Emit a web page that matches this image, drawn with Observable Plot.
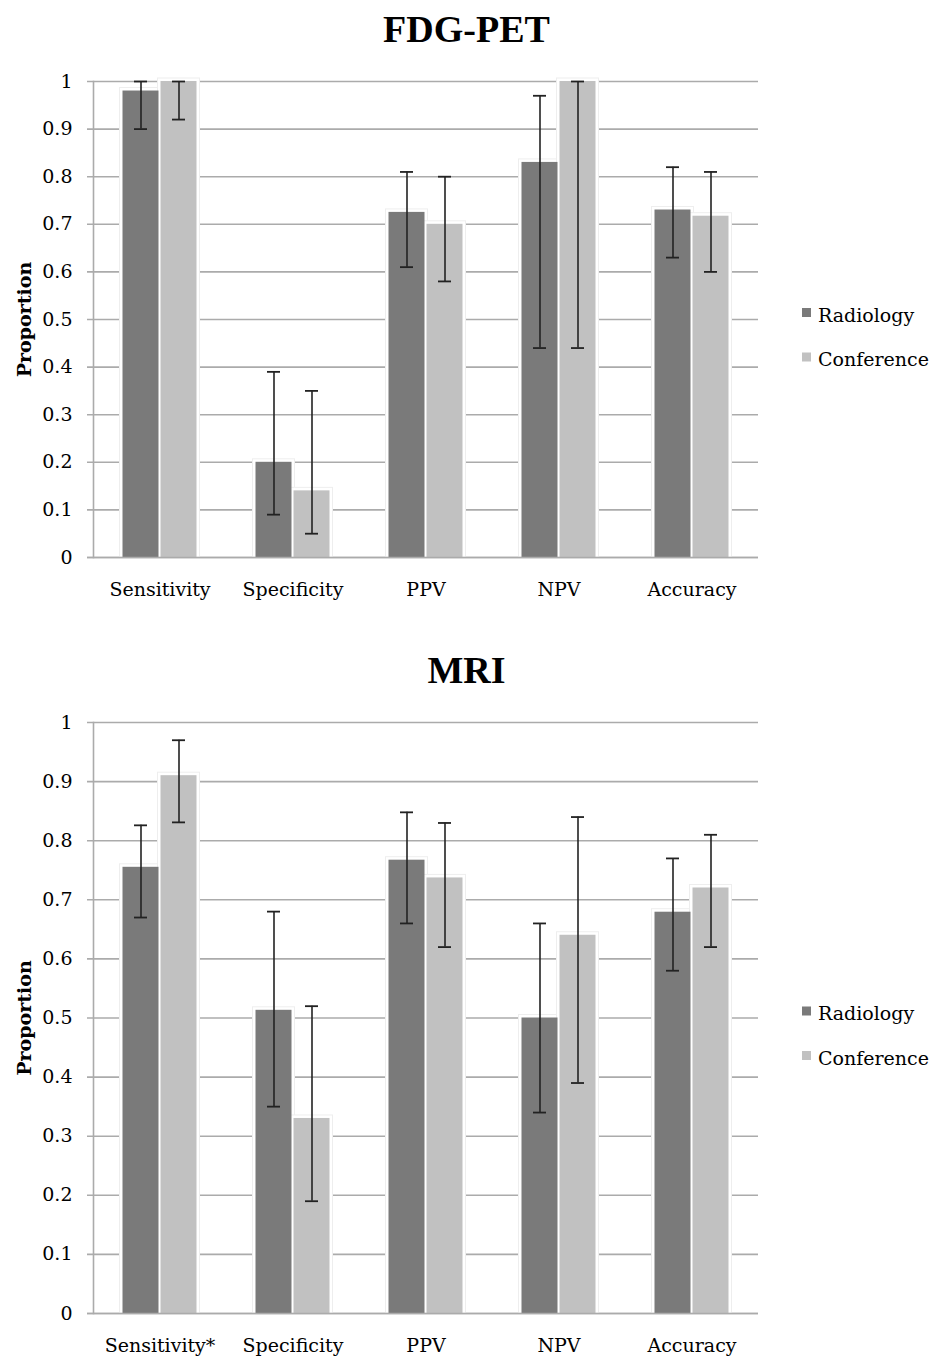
<!DOCTYPE html>
<html><head><meta charset="utf-8">
<script src="https://cdn.jsdelivr.net/npm/d3@7"></script>
<script src="https://cdn.jsdelivr.net/npm/@observablehq/plot@0.6"></script>
<style>
body{margin:0;background:#fff;}
#page{position:relative;width:933px;height:1357px;overflow:hidden;background:#fff;}
.title{position:absolute;left:0;width:933px;text-align:center;font-family:"Liberation Serif",serif;font-weight:bold;font-size:38px;line-height:38px;color:#000;}
.chart{position:absolute;left:0;}
</style></head><body><div id="page"></div>
<script>
// ---- data ----
const series = ["Radiology", "Conference"];
const seriesColors = ["#7a7a7a", "#c1c1c1"];
const yTicks = [0, 0.1, 0.2, 0.3, 0.4, 0.5, 0.6, 0.7, 0.8, 0.9, 1];
const yLabel = "Proportion";

const petTitle = "FDG-PET";
const petMetrics = ["Sensitivity", "Specificity", "PPV", "NPV", "Accuracy"];
const petRadiology   = [0.98, 0.20, 0.725, 0.83, 0.73];
const petRadiologyLo = [0.90, 0.09, 0.61, 0.44, 0.63];
const petRadiologyHi = [1.00, 0.39, 0.81, 0.97, 0.82];
const petConference   = [1.00, 0.14, 0.70, 1.00, 0.717];
const petConferenceLo = [0.92, 0.05, 0.58, 0.44, 0.60];
const petConferenceHi = [1.00, 0.35, 0.80, 1.00, 0.81];

const mriTitle = "MRI";
const mriMetrics = ["Sensitivity*", "Specificity", "PPV", "NPV", "Accuracy"];
const mriRadiology   = [0.755, 0.513, 0.767, 0.50, 0.679];
const mriRadiologyLo = [0.67, 0.35, 0.66, 0.34, 0.58];
const mriRadiologyHi = [0.826, 0.68, 0.848, 0.66, 0.77];
const mriConference   = [0.91, 0.33, 0.737, 0.64, 0.72];
const mriConferenceLo = [0.831, 0.19, 0.62, 0.39, 0.62];
const mriConferenceHi = [0.97, 0.52, 0.83, 0.84, 0.81];

// ---- build ----
const page = document.getElementById("page");
const FONT = "'DejaVu Serif', serif";
const GRID = "#ababab";
const ERR = "#222";

function makeRows(metrics, vals, los, his) {
  return metrics.flatMap((m, i) => series.map((s, j) => ({
    metric: m, series: s, value: vals[j][i], lo: los[j][i], hi: his[j][i]
  })));
}

function chart({title, titleTop, metrics, rows, top, height, marginTop, marginBottom}) {
  const t = document.createElement("div");
  t.className = "title";
  t.style.top = titleTop + "px";
  t.textContent = title;
  page.appendChild(t);

  const offsets = [-19, 19];
  const marks = [
    Plot.ruleY(yTicks, {y: d => d, stroke: GRID, strokeWidth: 1.6, insetLeft: -6})
  ];
  series.forEach((s, j) => {
    const data = rows.filter(r => r.series === s);
    marks.push(Plot.barY(data, {x: "metric", y: "value", fill: "white", stroke: "#eeeeee", strokeWidth: 1,
      insetLeft: 45.5, insetRight: 45.5, insetTop: -3, dx: offsets[j]}));
  });
  series.forEach((s, j) => {
    const data = rows.filter(r => r.series === s);
    marks.push(Plot.barY(data, {x: "metric", y: "value", fill: seriesColors[j],
      insetLeft: 48.5, insetRight: 48.5, dx: offsets[j]}));
  });
  marks.push(Plot.ruleY([0], {stroke: GRID, strokeWidth: 1.6, insetLeft: -6}));
  marks.push(Plot.frame({anchor: "left", stroke: GRID, strokeWidth: 1.6}));
  series.forEach((s, j) => {
    const data = rows.filter(r => r.series === s);
    marks.push(Plot.ruleX(data, {x: "metric", y1: "lo", y2: "hi", dx: offsets[j], stroke: ERR, strokeWidth: 1.6}));
    marks.push(Plot.tickY(data, {x: "metric", y: "lo", dx: offsets[j], insetLeft: 60, insetRight: 60, stroke: ERR, strokeWidth: 1.8}));
    marks.push(Plot.tickY(data, {x: "metric", y: "hi", dx: offsets[j], insetLeft: 60, insetRight: 60, stroke: ERR, strokeWidth: 1.8}));
  });
  marks.push(Plot.axisY({ticks: yTicks, tickSize: 0, tickPadding: 21, tickFormat: d => String(d), label: null}));
  marks.push(Plot.axisX({tickSize: 0, tickPadding: 25, label: null}));
  marks.push(Plot.text([yLabel], {frameAnchor: "left", rotate: -90, dx: -69, lineAnchor: "middle",
    textAnchor: "middle", fontWeight: "bold", text: d => d}));

  const svg = Plot.plot({
    width: 933, height, marginLeft: 93, marginRight: 175, marginTop, marginBottom,
    style: {fontFamily: FONT, fontSize: "19px", color: "#000", background: "white", overflow: "visible"},
    x: {domain: metrics, padding: 0, label: null},
    y: {domain: [0, 1], label: null},
    marks
  });
  svg.classList.add("chart");
  svg.style.top = top + "px";
  page.appendChild(svg);

  // legend
  const center = (marginTop + (height - marginBottom)) / 2;
  const sel = d3.select(svg);
  series.forEach((s, j) => {
    const base = center + 2.5 + j * 44.5;
    sel.append("rect").attr("x", 802).attr("y", base - 13.5).attr("width", 9).attr("height", 9)
      .attr("fill", seriesColors[j]);
    sel.append("text").attr("x", 818).attr("y", base).attr("font-family", FONT).attr("font-size", 19)
      .attr("text-anchor", "start").attr("fill", "#000").text(s);
  });
}

chart({title: petTitle, titleTop: 10, metrics: petMetrics,
  rows: makeRows(petMetrics, [petRadiology, petConference], [petRadiologyLo, petConferenceLo], [petRadiologyHi, petConferenceHi]),
  top: 55, height: 552, marginTop: 26, marginBottom: 50});
chart({title: mriTitle, titleTop: 651, metrics: mriMetrics,
  rows: makeRows(mriMetrics, [mriRadiology, mriConference], [mriRadiologyLo, mriConferenceLo], [mriRadiologyHi, mriConferenceHi]),
  top: 695, height: 662, marginTop: 27, marginBottom: 44});
</script></body></html>
